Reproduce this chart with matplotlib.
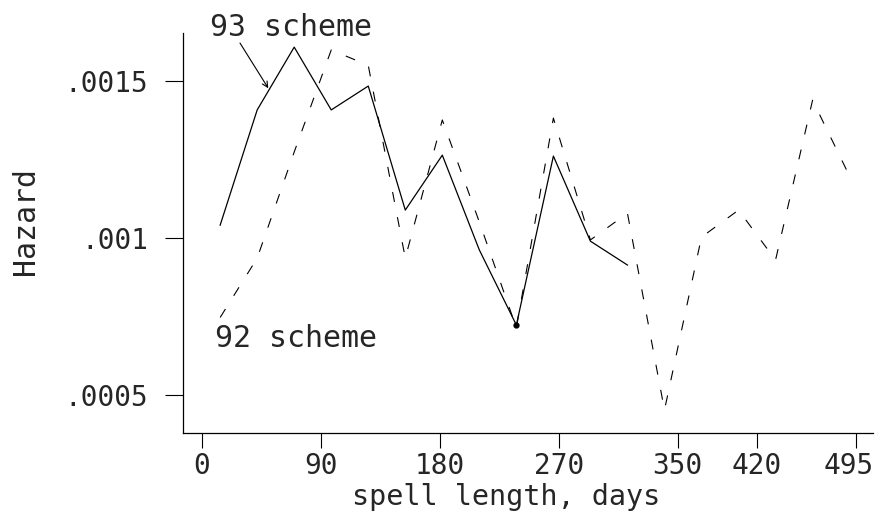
"""
Hazard by spell length, 92 vs 93 scheme
"""

import matplotlib
matplotlib.use('Agg')
from matplotlib import pyplot as plt
from matplotlib import transforms

# spell length in days, midpoints of 4-week intervals
days_93 = [14, 42, 70, 98, 126, 154, 182, 210, 238, 266, 294, 322]
hazard_93 = [0.001042, 0.001409, 0.001609, 0.001409, 0.001485, 0.00109,
             0.001265, 0.000963, 0.000724, 0.001262, 0.000991, 0.000915]

days_92 = [14, 42, 70, 98, 126, 154, 182, 210, 238, 266, 294, 322,
           350, 378, 406, 434, 462, 490]
hazard_92 = [0.000748, 0.000937, 0.001275, 0.0016, 0.001551, 0.000937,
             0.001377, 0.001052, 0.000715, 0.001383, 0.000995, 0.00108,
             0.000453, 0.001004, 0.00109, 0.000931, 0.00144, 0.001198]

x_ticks = [0, 90, 180, 270, 360, 420, 495]
x_tick_labels = ['0', '90', '180', '270', '350', '420', '495']
y_ticks = [0.0005, 0.001, 0.0015]
y_tick_labels = ['.0005', '.001', '.0015']

plt.rcParams['font.family'] = ['DejaVu Sans Mono', 'DejaVu Sans']
txt_color = '#262626'

fig = plt.figure(figsize=(8.79, 5.23), dpi=100)
ax = fig.add_axes([183 / 879, 1 - 432.7 / 523, 690 / 879, 399.7 / 523])

ax.plot(days_92, hazard_92, color='black', lw=0.8, linestyle=(0, (9, 14)))
ax.plot(days_93, hazard_93, color='black', lw=0.9)
# low point of the 93 series
ax.plot([days_93[8]], [hazard_93[8]], 'o', color='black', ms=3.5)

ax.set_xlim(-14.1, 507.7)
ax.set_ylim(0.000381, 0.001654)

ax.spines['top'].set_visible(False)
ax.spines['right'].set_visible(False)
for s in ('left', 'bottom'):
    ax.spines[s].set_linewidth(0.9)

ax.set_xticks(x_ticks)
ax.set_xticklabels(x_tick_labels)
ax.set_yticks(y_ticks)
ax.set_yticklabels(y_tick_labels)
ax.tick_params(axis='x', direction='out', length=11, width=0.8, pad=3,
               labelsize=20, labelcolor=txt_color)
ax.tick_params(axis='y', direction='out', length=13, width=0.8, pad=12,
               labelsize=20, labelcolor=txt_color)

# pull the last x label in from the right edge
last = ax.get_xticklabels()[-1]
last.set_transform(last.get_transform() +
                   transforms.ScaledTranslation(-8 / 100, 0, fig.dpi_scale_trans))

ax.set_xlabel('spell length, days', fontsize=20.5, color=txt_color)
ax.xaxis.set_label_coords(0.469, -0.161)
ax.xaxis.label.set_va('center')
ax.set_ylabel('Hazard', fontsize=21.5, color=txt_color)
ax.yaxis.set_label_coords(-0.228, 0.530)
ax.yaxis.label.set_va('center')

ax.annotate('', xy=(50.4, 0.001478), xytext=(29, 0.001622),
            arrowprops=dict(arrowstyle='->', color='black', lw=0.8,
                            shrinkA=0, shrinkB=0),
            annotation_clip=False)
ax.text(6.3, 0.001673, '93 scheme', fontsize=21.5, ha='left', va='center',
        color=txt_color, clip_on=False)
ax.text(10, 0.000682, '92 scheme', fontsize=21.5, ha='left', va='center',
        color=txt_color)

plt.savefig('out.png', dpi=100)
